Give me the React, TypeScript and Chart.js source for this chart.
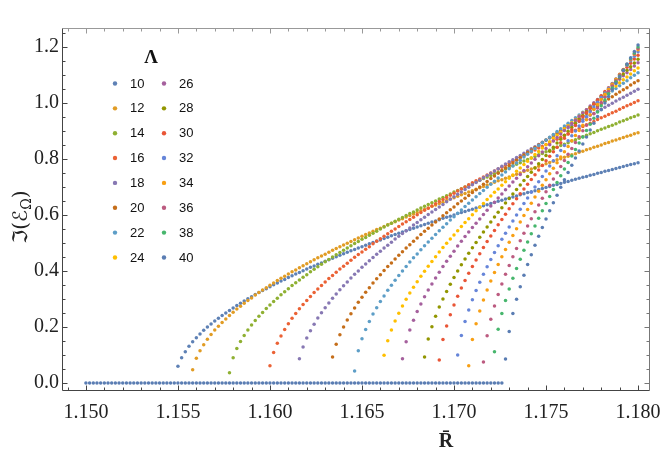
import React, { useEffect, useRef } from "react";
import { Chart, registerables } from "chart.js";

Chart.register(...registerables);

// ---------- data ----------
const LAMBDAS = [10, 12, 14, 16, 18, 20, 22, 24, 26, 28, 30, 32, 34, 36, 38, 40];
const R_STEP = 0.0002;
const R_START = [
  1.155, 1.1558, 1.1578, 1.16, 1.1616, 1.1634, 1.1646, 1.1662,
  1.1672, 1.1684, 1.1692, 1.1702, 1.1708, 1.1716, 1.1722, 1.1728,
];
const ZERO_START = 1.15;
const ZERO_BRANCH = [
  0, 0, 0, 0, 0, 0, 0, 0, 0, 0, 0, 0, 0, 0, 0, 0, 0, 0, 0, 0, 0, 0, 0, 0, 0, 0, 0, 0, 0, 0,
  0, 0, 0, 0, 0, 0, 0, 0, 0, 0, 0, 0, 0, 0, 0, 0, 0, 0, 0, 0, 0, 0, 0, 0, 0, 0, 0, 0, 0, 0,
  0, 0, 0, 0, 0, 0, 0, 0, 0, 0, 0, 0, 0, 0, 0, 0, 0, 0, 0, 0, 0, 0, 0, 0, 0, 0, 0, 0, 0, 0,
  0, 0, 0, 0, 0, 0, 0, 0, 0, 0, 0, 0, 0, 0, 0, 0, 0, 0, 0, 0, 0, 0, 0, 0,
];

const S10 = [
  0.060, 0.090, 0.112, 0.131, 0.147, 0.162, 0.175, 0.188, 0.200, 0.211,
  0.221, 0.231, 0.241, 0.250, 0.259, 0.268, 0.277, 0.285, 0.293, 0.301,
  0.308, 0.316, 0.323, 0.330, 0.337, 0.344, 0.351, 0.357, 0.364, 0.370,
  0.377, 0.383, 0.389, 0.395, 0.401, 0.407, 0.413, 0.418, 0.424, 0.429,
  0.435, 0.440, 0.446, 0.451, 0.456, 0.462, 0.467, 0.472, 0.477, 0.482,
  0.487, 0.492, 0.497, 0.502, 0.507, 0.511, 0.516, 0.521, 0.526, 0.530,
  0.535, 0.539, 0.544, 0.548, 0.553, 0.557, 0.562, 0.566, 0.571, 0.575,
  0.579, 0.583, 0.588, 0.592, 0.596, 0.600, 0.605, 0.609, 0.613, 0.617,
  0.621, 0.625, 0.629, 0.633, 0.637, 0.641, 0.645, 0.649, 0.653, 0.657,
  0.661, 0.664, 0.668, 0.672, 0.676, 0.680, 0.683, 0.687, 0.691, 0.695,
  0.698, 0.702, 0.706, 0.709, 0.713, 0.717, 0.720, 0.724, 0.728, 0.731,
  0.735, 0.738, 0.742, 0.745, 0.749, 0.752, 0.756, 0.759, 0.763, 0.766,
  0.770, 0.773, 0.777, 0.780, 0.783, 0.787,
];
const S12 = [
  0.047, 0.088, 0.115, 0.137, 0.156, 0.173, 0.189, 0.203, 0.216, 0.229,
  0.241, 0.253, 0.264, 0.274, 0.285, 0.295, 0.304, 0.314, 0.323, 0.332,
  0.340, 0.349, 0.357, 0.366, 0.374, 0.381, 0.389, 0.397, 0.404, 0.412,
  0.419, 0.426, 0.433, 0.440, 0.447, 0.454, 0.460, 0.467, 0.474, 0.480,
  0.487, 0.493, 0.499, 0.505, 0.512, 0.518, 0.524, 0.530, 0.536, 0.542,
  0.548, 0.553, 0.559, 0.565, 0.571, 0.576, 0.582, 0.587, 0.593, 0.598,
  0.604, 0.609, 0.615, 0.620, 0.625, 0.631, 0.636, 0.641, 0.646, 0.652,
  0.657, 0.662, 0.667, 0.672, 0.677, 0.682, 0.687, 0.692, 0.697, 0.702,
  0.707, 0.712, 0.717, 0.722, 0.726, 0.731, 0.736, 0.741, 0.746, 0.750,
  0.755, 0.760, 0.764, 0.769, 0.774, 0.778, 0.783, 0.788, 0.792, 0.797,
  0.801, 0.806, 0.810, 0.815, 0.819, 0.824, 0.828, 0.833, 0.837, 0.842,
  0.846, 0.850, 0.855, 0.859, 0.864, 0.868, 0.872, 0.877, 0.881, 0.885,
  0.890, 0.894,
];
const S14 = [
  0.037, 0.090, 0.123, 0.148, 0.170, 0.189, 0.207, 0.223, 0.238, 0.252,
  0.266, 0.279, 0.291, 0.303, 0.315, 0.326, 0.337, 0.348, 0.358, 0.368,
  0.378, 0.387, 0.397, 0.406, 0.415, 0.424, 0.433, 0.441, 0.450, 0.458,
  0.466, 0.474, 0.482, 0.490, 0.498, 0.505, 0.513, 0.520, 0.528, 0.535,
  0.542, 0.550, 0.557, 0.564, 0.571, 0.578, 0.585, 0.591, 0.598, 0.605,
  0.611, 0.618, 0.625, 0.631, 0.638, 0.644, 0.650, 0.657, 0.663, 0.669,
  0.675, 0.682, 0.688, 0.694, 0.700, 0.706, 0.712, 0.718, 0.724, 0.730,
  0.736, 0.741, 0.747, 0.753, 0.759, 0.764, 0.770, 0.776, 0.781, 0.787,
  0.793, 0.798, 0.804, 0.809, 0.815, 0.820, 0.826, 0.831, 0.837, 0.842,
  0.848, 0.853, 0.858, 0.864, 0.869, 0.874, 0.880, 0.885, 0.890, 0.895,
  0.901, 0.906, 0.911, 0.916, 0.921, 0.926, 0.932, 0.937, 0.942, 0.947,
  0.952, 0.957,
];
const S16 = [
  0.062, 0.109, 0.142, 0.168, 0.191, 0.212, 0.231, 0.248, 0.265, 0.280,
  0.295, 0.309, 0.323, 0.336, 0.348, 0.361, 0.373, 0.384, 0.396, 0.407,
  0.417, 0.428, 0.438, 0.449, 0.459, 0.468, 0.478, 0.487, 0.497, 0.506,
  0.515, 0.524, 0.533, 0.542, 0.550, 0.559, 0.568, 0.576, 0.584, 0.592,
  0.601, 0.609, 0.617, 0.624, 0.632, 0.640, 0.648, 0.655, 0.663, 0.671,
  0.678, 0.686, 0.693, 0.700, 0.708, 0.715, 0.722, 0.729, 0.736, 0.743,
  0.750, 0.757, 0.764, 0.771, 0.778, 0.785, 0.792, 0.799, 0.805, 0.812,
  0.819, 0.825, 0.832, 0.839, 0.845, 0.852, 0.858, 0.865, 0.871, 0.878,
  0.884, 0.890, 0.897, 0.903, 0.909, 0.916, 0.922, 0.928, 0.934, 0.941,
  0.947, 0.953, 0.959, 0.965, 0.971, 0.978, 0.984, 0.990, 0.996, 1.002,
  1.008,
];
const S18 = [
  0.087, 0.129, 0.161, 0.187, 0.210, 0.232, 0.251, 0.269, 0.286, 0.303,
  0.318, 0.333, 0.347, 0.361, 0.375, 0.388, 0.400, 0.413, 0.425, 0.437,
  0.448, 0.460, 0.471, 0.482, 0.492, 0.503, 0.514, 0.524, 0.534, 0.544,
  0.554, 0.564, 0.573, 0.583, 0.592, 0.602, 0.611, 0.620, 0.629, 0.638,
  0.647, 0.656, 0.665, 0.674, 0.682, 0.691, 0.699, 0.708, 0.716, 0.724,
  0.733, 0.741, 0.749, 0.757, 0.765, 0.774, 0.782, 0.790, 0.797, 0.805,
  0.813, 0.821, 0.829, 0.837, 0.844, 0.852, 0.860, 0.867, 0.875, 0.882,
  0.890, 0.897, 0.905, 0.912, 0.920, 0.927, 0.934, 0.942, 0.949, 0.956,
  0.963, 0.971, 0.978, 0.985, 0.992, 0.999, 1.007, 1.014, 1.021, 1.028,
  1.035, 1.042, 1.049,
];
const S20 = [
  0.093, 0.138, 0.172, 0.200, 0.225, 0.247, 0.268, 0.288, 0.306, 0.324,
  0.340, 0.357, 0.372, 0.387, 0.402, 0.416, 0.429, 0.443, 0.456, 0.469,
  0.482, 0.494, 0.506, 0.518, 0.530, 0.542, 0.553, 0.564, 0.575, 0.586,
  0.597, 0.608, 0.619, 0.629, 0.640, 0.650, 0.660, 0.670, 0.680, 0.690,
  0.700, 0.710, 0.720, 0.730, 0.739, 0.749, 0.758, 0.768, 0.777, 0.786,
  0.796, 0.805, 0.814, 0.823, 0.832, 0.841, 0.850, 0.859, 0.868, 0.877,
  0.886, 0.894, 0.903, 0.912, 0.921, 0.929, 0.938, 0.946, 0.955, 0.963,
  0.972, 0.980, 0.989, 0.997, 1.006, 1.014, 1.022, 1.031, 1.039, 1.047,
  1.055, 1.064, 1.072, 1.080,
];
const S22 = [
  0.043, 0.115, 0.158, 0.191, 0.220, 0.246, 0.269, 0.291, 0.311, 0.331,
  0.349, 0.367, 0.384, 0.400, 0.416, 0.432, 0.447, 0.461, 0.476, 0.490,
  0.504, 0.517, 0.530, 0.544, 0.556, 0.569, 0.582, 0.594, 0.606, 0.618,
  0.630, 0.642, 0.654, 0.665, 0.677, 0.688, 0.699, 0.710, 0.721, 0.732,
  0.743, 0.754, 0.765, 0.775, 0.786, 0.796, 0.807, 0.817, 0.828, 0.838,
  0.848, 0.858, 0.868, 0.878, 0.888, 0.898, 0.908, 0.918, 0.928, 0.938,
  0.947, 0.957, 0.967, 0.976, 0.986, 0.996, 1.005, 1.015, 1.024, 1.034,
  1.043, 1.052, 1.062, 1.071, 1.080, 1.090, 1.099, 1.108,
];
const S24 = [
  0.099, 0.151, 0.189, 0.221, 0.249, 0.275, 0.299, 0.321, 0.342, 0.362,
  0.381, 0.399, 0.417, 0.434, 0.451, 0.468, 0.484, 0.499, 0.514, 0.529,
  0.544, 0.559, 0.573, 0.587, 0.601, 0.615, 0.628, 0.641, 0.655, 0.668,
  0.681, 0.693, 0.706, 0.719, 0.731, 0.743, 0.756, 0.768, 0.780, 0.792,
  0.804, 0.816, 0.827, 0.839, 0.851, 0.862, 0.874, 0.885, 0.896, 0.908,
  0.919, 0.930, 0.941, 0.953, 0.964, 0.975, 0.986, 0.997, 1.008, 1.018,
  1.029, 1.040, 1.051, 1.061, 1.072, 1.083, 1.093, 1.104, 1.115, 1.125,
];
const S26 = [
  0.087, 0.147, 0.189, 0.224, 0.255, 0.282, 0.308, 0.332, 0.354, 0.375,
  0.396, 0.416, 0.435, 0.453, 0.471, 0.489, 0.506, 0.523, 0.539, 0.555,
  0.571, 0.586, 0.602, 0.617, 0.632, 0.646, 0.661, 0.675, 0.690, 0.704,
  0.718, 0.731, 0.745, 0.759, 0.772, 0.786, 0.799, 0.812, 0.825, 0.838,
  0.851, 0.864, 0.877, 0.889, 0.902, 0.914, 0.927, 0.939, 0.952, 0.964,
  0.976, 0.989, 1.001, 1.013, 1.025, 1.037, 1.049, 1.061, 1.073, 1.085,
  1.097, 1.108, 1.120, 1.132, 1.144,
];
const S28 = [
  0.093, 0.157, 0.201, 0.238, 0.271, 0.300, 0.327, 0.353, 0.377, 0.400,
  0.422, 0.443, 0.463, 0.483, 0.502, 0.521, 0.539, 0.557, 0.575, 0.593,
  0.610, 0.626, 0.643, 0.659, 0.675, 0.691, 0.707, 0.723, 0.738, 0.753,
  0.768, 0.783, 0.798, 0.813, 0.828, 0.842, 0.857, 0.871, 0.885, 0.899,
  0.913, 0.927, 0.941, 0.955, 0.969, 0.983, 0.996, 1.010, 1.023, 1.037,
  1.050, 1.064, 1.077, 1.090, 1.104, 1.117, 1.130, 1.143, 1.156,
];
const S30 = [
  0.082, 0.155, 0.204, 0.244, 0.279, 0.310, 0.339, 0.366, 0.392, 0.416,
  0.439, 0.462, 0.484, 0.505, 0.525, 0.545, 0.565, 0.584, 0.603, 0.622,
  0.640, 0.658, 0.676, 0.693, 0.710, 0.727, 0.744, 0.761, 0.777, 0.794,
  0.810, 0.826, 0.842, 0.858, 0.874, 0.889, 0.905, 0.920, 0.936, 0.951,
  0.966, 0.981, 0.996, 1.011, 1.026, 1.041, 1.055, 1.070, 1.085, 1.099,
  1.114, 1.128, 1.142, 1.157, 1.171,
];
const S32 = [
  0.100, 0.170, 0.220, 0.261, 0.297, 0.330, 0.360, 0.388, 0.415, 0.441,
  0.466, 0.490, 0.513, 0.535, 0.557, 0.579, 0.600, 0.621, 0.641, 0.661,
  0.681, 0.700, 0.719, 0.738, 0.757, 0.775, 0.794, 0.812, 0.830, 0.848,
  0.865, 0.883, 0.900, 0.918, 0.935, 0.952, 0.969, 0.986, 1.003, 1.020,
  1.036, 1.053, 1.069, 1.086, 1.102, 1.119, 1.135, 1.151, 1.167, 1.183,
];
const S34 = [
  0.062, 0.155, 0.212, 0.257, 0.296, 0.332, 0.364, 0.395, 0.423, 0.451,
  0.477, 0.503, 0.527, 0.551, 0.575, 0.598, 0.620, 0.642, 0.664, 0.685,
  0.706, 0.726, 0.747, 0.767, 0.787, 0.807, 0.826, 0.845, 0.865, 0.884,
  0.902, 0.921, 0.940, 0.958, 0.977, 0.995, 1.013, 1.031, 1.049, 1.067,
  1.085, 1.103, 1.120, 1.138, 1.155, 1.173, 1.190,
];
const S36 = [
  0.075, 0.169, 0.228, 0.275, 0.316, 0.354, 0.388, 0.420, 0.451, 0.480,
  0.508, 0.535, 0.561, 0.587, 0.612, 0.636, 0.660, 0.683, 0.706, 0.729,
  0.751, 0.773, 0.795, 0.817, 0.838, 0.859, 0.880, 0.901, 0.921, 0.941,
  0.962, 0.982, 1.002, 1.021, 1.041, 1.061, 1.080, 1.100, 1.119, 1.138,
  1.157, 1.176, 1.195,
];
const S38 = [
  0.112, 0.192, 0.248, 0.295, 0.336, 0.374, 0.409, 0.442, 0.474, 0.504,
  0.533, 0.561, 0.588, 0.615, 0.641, 0.666, 0.691, 0.716, 0.740, 0.764,
  0.788, 0.811, 0.834, 0.857, 0.879, 0.902, 0.924, 0.946, 0.968, 0.990,
  1.011, 1.033, 1.054, 1.075, 1.096, 1.117, 1.138, 1.159, 1.179, 1.200,
];
const S40 = [
  0.086, 0.184, 0.248, 0.299, 0.344, 0.385, 0.423, 0.458, 0.492, 0.524,
  0.555, 0.586, 0.615, 0.644, 0.671, 0.699, 0.726, 0.752, 0.778, 0.804,
  0.829, 0.854, 0.879, 0.904, 0.928, 0.952, 0.976, 1.000, 1.023, 1.047,
  1.070, 1.093, 1.116, 1.139, 1.162, 1.184, 1.207,
];
const SERIES = [S10, S12, S14, S16, S18, S20, S22, S24, S26, S28, S30, S32, S34, S36, S38, S40];

const X_TICKS = [1.15, 1.155, 1.16, 1.165, 1.17, 1.175, 1.18];
const Y_TICKS = [0, 0.2, 0.4, 0.6, 0.8, 1.0, 1.2];

// ---------- style ----------
const COLORS = [
  "#5E81B5", "#E19C24", "#8FB032", "#EB6235", "#8778B3", "#C56E1A", "#5D9EC7", "#FFBF00",
  "#A5609D", "#929600", "#E95536", "#6685D9", "#F89F13", "#BC5B80", "#47B66D", "#5A7DB3",
];
const SERIF = '"Liberation Serif", "Times New Roman", serif';

const framePlugin = {
  id: "mmaFrame",
  beforeDatasetsDraw(chart: any) {
    const { ctx, chartArea, scales } = chart;
    const { left, right, top, bottom } = chartArea;
    const xs = scales.x;
    const ys = scales.y;
    ctx.save();
    ctx.lineWidth = 1;
    const L = Math.round(left) + 0.5;
    const Rr = Math.round(right) - 0.5;
    const T = Math.round(top) + 0.5;
    const B = Math.round(bottom) - 0.5;
    for (let m = 1149; m <= 1180; m++) {
      const px = Math.round(xs.getPixelForValue(m / 1000)) + 0.5;
      if (px < left || px > right) continue;
      const len = m % 5 === 0 ? 5 : 3;
      ctx.strokeStyle = "#444";
      ctx.beginPath(); ctx.moveTo(px, B); ctx.lineTo(px, B - len); ctx.stroke();
      ctx.strokeStyle = "#999";
      ctx.beginPath(); ctx.moveTo(px, T); ctx.lineTo(px, T + len); ctx.stroke();
    }
    for (let m = 0; m <= 25; m++) {
      const py = Math.round(ys.getPixelForValue(m * 0.05)) + 0.5;
      if (py < top || py > bottom) continue;
      const len = m % 4 === 0 ? 5 : 3;
      ctx.strokeStyle = "#444";
      ctx.beginPath(); ctx.moveTo(L, py); ctx.lineTo(L + len, py); ctx.stroke();
      ctx.strokeStyle = "#777";
      ctx.beginPath(); ctx.moveTo(Rr, py); ctx.lineTo(Rr - len, py); ctx.stroke();
    }
    ctx.strokeStyle = "#999";
    ctx.beginPath(); ctx.moveTo(L, T); ctx.lineTo(Rr, T); ctx.stroke();
    ctx.strokeStyle = "#777";
    ctx.beginPath(); ctx.moveTo(Rr, T); ctx.lineTo(Rr, B); ctx.stroke();
    ctx.strokeStyle = "#444";
    ctx.beginPath(); ctx.moveTo(L, T); ctx.lineTo(L, B); ctx.lineTo(Rr, B); ctx.stroke();
    ctx.restore();
  },
  afterDraw(chart: any) {
    const { ctx } = chart;
    ctx.save();
    ctx.fillStyle = "#111";
    ctx.font = `bold 19px ${SERIF}`;
    ctx.textAlign = "center";
    ctx.textBaseline = "middle";
    ctx.fillText("Λ", 151, 58);
    ctx.font = '13px "Liberation Sans", Arial, sans-serif';
    ctx.textAlign = "left";
    LAMBDAS.forEach((lam, i) => {
      const col = i < 8 ? 0 : 1;
      const row = i % 8;
      const mx = col ? 164 : 115;
      const my = 83.5 + row * 24.85;
      ctx.fillStyle = COLORS[i];
      ctx.beginPath(); ctx.arc(mx, my, 2.2, 0, Math.PI * 2); ctx.fill();
      ctx.fillStyle = "#111";
      ctx.fillText(String(lam), mx + 15, my + 0.5);
    });
    ctx.font = `bold 20px ${SERIF}`;
    ctx.textAlign = "center";
    ctx.textBaseline = "alphabetic";
    ctx.fillStyle = "#222";
    ctx.fillText("R\u0304", 446, 447);
    ctx.translate(20, 217);
    ctx.rotate(-Math.PI / 2);
    const big = '20px "DejaVu Serif", "DejaVu Sans", serif';
    const small = '14px "DejaVu Serif", "DejaVu Sans", serif';
    const a = "ℑ(ℰ";
    const b = "Ω";
    const c = ")";
    ctx.font = big;
    const wa = ctx.measureText(a).width;
    const wc = ctx.measureText(c).width;
    ctx.font = small;
    const wb = ctx.measureText(b).width;
    const x0 = -(wa + wb + wc) / 2;
    ctx.textAlign = "left";
    ctx.font = big;
    ctx.fillText(a, x0, 7);
    ctx.font = small;
    ctx.fillText(b, x0 + wa, 11);
    ctx.font = big;
    ctx.fillText(c, x0 + wa + wb, 7);
    ctx.restore();
  },
};

export default function App() {
  const ref = useRef<HTMLCanvasElement | null>(null);
  useEffect(() => {
    document.body.style.margin = "0";
    const canvas = ref.current;
    if (!canvas) return;
    const datasets: any[] = SERIES.map((vals, i) => ({
      label: String(LAMBDAS[i]),
      data: vals.map((v, j) => ({ x: R_START[i] + j * R_STEP, y: v })),
      pointRadius: 1.75,
      pointBorderWidth: 0,
      pointBackgroundColor: COLORS[i],
      backgroundColor: COLORS[i],
      showLine: false,
      order: LAMBDAS.length - i + 1,
    }));
    datasets.push({
      label: "zero",
      data: ZERO_BRANCH.map((v, j) => ({ x: ZERO_START + j * R_STEP, y: v })),
      pointRadius: 1.75,
      pointBorderWidth: 0,
      pointBackgroundColor: COLORS[15],
      backgroundColor: COLORS[15],
      showLine: false,
      order: 0,
    });
    const chart = new Chart(canvas, {
      type: "scatter",
      data: { datasets },
      plugins: [framePlugin],
      options: {
        animation: false,
        responsive: false,
        events: [],
        layout: { padding: { top: 28, right: 14, left: 0, bottom: 0 } },
        plugins: { legend: { display: false }, tooltip: { enabled: false } },
        scales: {
          x: {
            type: "linear",
            min: 1.1487,
            max: 1.18065,
            afterBuildTicks: (s: any) => {
              s.ticks = X_TICKS.map((v) => ({ value: v }));
            },
            afterFit: (s: any) => {
              s.height = 67;
              s.paddingLeft = 0;
              s.paddingRight = 0;
            },
            grid: { display: false, drawTicks: false },
            border: { display: false },
            ticks: {
              padding: 10,
              autoSkip: false,
              maxRotation: 0,
              color: "#222",
              font: { family: SERIF, size: 20 },
              callback: (v: any) => Number(v).toFixed(3),
            },
          },
          y: {
            type: "linear",
            min: -0.0286,
            max: 1.268,
            afterBuildTicks: (s: any) => {
              s.ticks = Y_TICKS.map((v) => ({ value: v }));
            },
            afterFit: (s: any) => {
              s.width = 62;
              s.paddingTop = 0;
              s.paddingBottom = 0;
            },
            grid: { display: false, drawTicks: false },
            border: { display: false },
            ticks: {
              padding: 3,
              autoSkip: false,
              color: "#222",
              font: { family: SERIF, size: 20 },
              callback: (v: any) => Number(v).toFixed(1),
            },
          },
        },
      },
    });
    return () => chart.destroy();
  }, []);
  return (
    <div style={{ width: 664, height: 458 }}>
      <canvas ref={ref} width={664} height={458} />
    </div>
  );
}
